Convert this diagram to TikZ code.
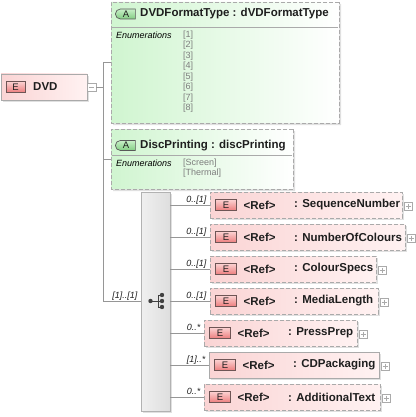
\documentclass[tikz,border=0pt]{standalone}
\usepackage{fontspec}
\setmainfont{Liberation Sans}
\usetikzlibrary{shapes.misc,shadows}
\definecolor{linegray}{RGB}{150,150,150}
\definecolor{bordergray}{RGB}{170,170,170}
\definecolor{elemL}{RGB}{250,212,212}
\definecolor{elemR}{RGB}{255,242,242}
\definecolor{badgeT}{RGB}{252,210,210}
\definecolor{badgeB}{RGB}{236,125,125}
\definecolor{badgeD}{RGB}{110,85,85}
\definecolor{attrL}{RGB}{208,245,208}
\definecolor{abadgeT}{RGB}{200,240,200}
\definecolor{abadgeB}{RGB}{130,205,130}
\definecolor{valgray}{RGB}{125,125,125}
\definecolor{txt}{RGB}{30,30,30}
\begin{document}
\begin{tikzpicture}[x=1pt,y=-1pt,
  conn/.style={draw=linegray, line width=0.8pt},
  shad/.style={drop shadow={shadow xshift=2pt,shadow yshift=-2pt,fill=black,opacity=0.12}},
  elembox/.style={draw=bordergray, line width=0.8pt, left color=elemL, right color=elemR, inner sep=0, shad},
  optionalbox/.style={dash pattern=on 4pt off 2pt},
  requiredbox/.style={solid},
  ebadge/.style={draw=badgeD, line width=0.7pt, top color=badgeT, bottom color=badgeB, minimum width=21pt, minimum height=11pt, inner sep=0, font=\fontsize{9.5}{9.5}\selectfont, text=txt},
  abadge/.style={rounded rectangle, rounded rectangle right arc=none, draw=black!65, line width=0.7pt, top color=abadgeT, bottom color=abadgeB, minimum width=20pt, minimum height=10pt, inner sep=0, font=\fontsize{9.5}{9.5}\selectfont, text=txt},
  attrbox/.style={chamfered rectangle, chamfered rectangle corners=south west, chamfered rectangle xsep=9pt, draw=bordergray, line width=0.8pt, optionalbox, left color=attrL, right color=white, inner sep=0, shad},
  elabel/.style={font=\fontsize{11.5}{13}\selectfont\bfseries, text=txt, inner sep=0},
  enumlbl/.style={font=\fontsize{9}{10}\selectfont\itshape, text=black, inner sep=0},
  enumval/.style={font=\fontsize{9}{10}\selectfont, text=valgray, inner sep=0},
  multlbl/.style={font=\fontsize{9}{10}\selectfont\itshape, text=txt, inner sep=0},
  smallbox/.style={draw=bordergray, fill=white, line width=0.6pt, minimum width=8pt, minimum height=8pt, inner sep=0},
  seqbox/.style={draw=black!30, line width=0.8pt, left color=black!6, right color=black!13, inner sep=0, shad}
]
\useasboundingbox (0,0) rectangle (415,417);

% root element
\node[elembox, minimum width=86pt, minimum height=26pt] (dvd) at (44,87) {};
\node[ebadge, minimum width=19pt] (dvdE) at (15.5,87) {E};
\node[elabel, anchor=west] (dvdN) at (33,87) {DVD};
\node[smallbox, minimum width=9pt] (minus) at (91.5,87) {};
\draw[bordergray, line width=0.6pt] ([xshift=2pt]minus.west) -- ([xshift=-2pt]minus.east);
\coordinate (tk) at (103,87);

% attribute 1
\node[attrbox, minimum width=228pt, minimum height=121pt] (a1) at (225,62.5) {};
\node[abadge] (a1A) at (126,14) {A};
\node[elabel, anchor=west] (a1T) at (140,14) {DVDFormatType : dVDFormatType};
\draw[bordergray, line width=0.6pt] (112,27) -- (338,27);
\node[enumlbl, anchor=west] (a1L) at (116,35) {Enumerations};
\foreach \k in {1,...,8}{
  \node[enumval, anchor=west] (a1v\k) at (183,{35+10.5*(\k-1)}) {[\k]};
}

% attribute 2
\node[attrbox, minimum width=182pt, minimum height=60pt] (a2) at (202,159) {};
\node[abadge] (a2A) at (126,145.5) {A};
\node[elabel, anchor=west] (a2T) at (140,146) {DiscPrinting : discPrinting};
\draw[bordergray, line width=0.6pt] (112,155) -- (292,155);
\node[enumlbl, anchor=west] (a2L) at (116,163) {Enumerations};
\node[enumval, anchor=west] (a2v1) at (183,163) {[Screen]};
\node[enumval, anchor=west] (a2v2) at (183,173.5) {[Thermal]};

% sequence compositor
\node[seqbox, minimum width=29pt, minimum height=219pt] (seq) at (155.5,301.5) {};
\coordinate (ic) at (155.5,301);
\begin{scope}[black!75]
\fill ([xshift=-5pt]ic) circle (2.2pt);
\draw[line width=0.9pt] ([xshift=-5pt]ic) -- ([xshift=6.5pt]ic);
\draw[line width=0.9pt] ([xshift=2.5pt,yshift=6pt]ic) -- ([xshift=2.5pt,yshift=-6pt]ic);
\draw[line width=0.9pt] ([xshift=2.5pt,yshift=6pt]ic) -- ([xshift=6.5pt,yshift=6pt]ic);
\draw[line width=0.9pt] ([xshift=2.5pt,yshift=-6pt]ic) -- ([xshift=6.5pt,yshift=-6pt]ic);
\fill ([xshift=6.5pt,yshift=6pt]ic) circle (2.2pt);
\fill ([xshift=6.5pt]ic) circle (2.2pt);
\fill ([xshift=6.5pt,yshift=-6pt]ic) circle (2.2pt);
\end{scope}

% trunk connectors
\draw[conn] (minus.east) -- (tk);
\draw[conn] (tk |- a1.west) -- (tk |- seq.west);
\draw[conn] (tk |- a1.west) -- (a1.west);
\draw[conn] (tk |- a2.west) -- (a2.west);
\draw[conn] (tk |- seq.west) -- (seq.west);
\node[multlbl, anchor=base east] (seqm) at ([xshift=-3pt,yshift=3pt]seq.west) {[1]..[1]};

% child elements
\foreach \i/\y/\xl/\xr/\mm/\nm/\bst in {
  1/205/210/402/{0..[1]}/SequenceNumber/optionalbox,
  2/237/210/405/{0..[1]}/NumberOfColours/optionalbox,
  3/269/210/376/{0..[1]}/ColourSpecs/optionalbox,
  4/301/210/378/{0..[1]}/MediaLength/optionalbox,
  5/333/204/357/{0..*}/PressPrep/optionalbox,
  6/365/209/379/{[1]..*}/CDPackaging/requiredbox,
  7/397/204/380/{0..*}/AdditionalText/optionalbox}{
  \pgfmathsetmacro\w{\xr-\xl}
  \pgfmathsetmacro\cx{(\xl+\xr)/2}
  \node[elembox, \bst, minimum width=\w pt, minimum height=26pt] (c\i) at (\cx,\y) {};
  \node[ebadge] (cE\i) at (\xl+16,\y) {E};
  \node[elabel, anchor=west] (cR\i) at (\xl+33.5,\y) {<Ref>};
  \node[elabel, anchor=west] (cN\i) at (\xl+84,\y) {: \nm};
  \node[smallbox] (p\i) at (\xr+6,\y+1) {};
  \draw[bordergray, line width=0.6pt] ([xshift=1.8pt]p\i.west) -- ([xshift=-1.8pt]p\i.east)
        ([yshift=-1.8pt]p\i.north) -- ([yshift=1.8pt]p\i.south);
  \draw[conn] (seq.east |- c\i.west) -- (c\i.west);
  \node[multlbl, anchor=base east] (cm\i) at ([xshift=-3pt,yshift=3pt]c\i.west) {\mm};
}
\end{tikzpicture}
\end{document}
